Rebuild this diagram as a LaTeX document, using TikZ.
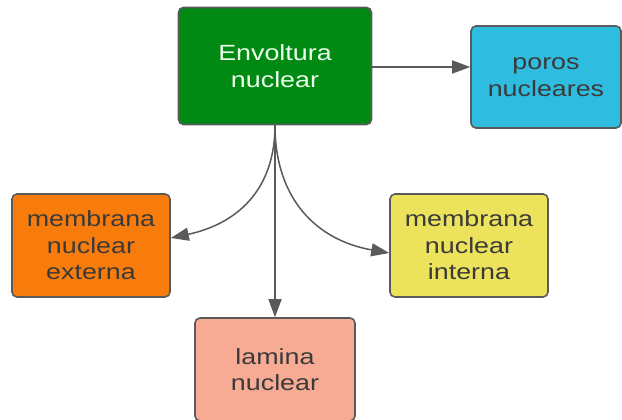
\documentclass[tikz,border=0pt]{standalone}
\usepackage{fontspec}
\setmainfont[FakeStretch=1.22]{Liberation Sans}
\usetikzlibrary{arrows.meta}
\definecolor{boxline}{HTML}{5A5A5A}
\definecolor{envgreen}{HTML}{008A14}
\definecolor{porocyan}{HTML}{2EBDE0}
\definecolor{extorange}{HTML}{F87C0C}
\definecolor{intyellow}{HTML}{ECE25C}
\definecolor{lamsalmon}{HTML}{F8AB94}
\definecolor{textgray}{HTML}{3A3A3A}
\begin{document}
\begin{tikzpicture}[x=1pt,y=1pt,
  conceptbox/.style={draw=boxline, line width=1.6pt, rounded corners=5pt,
    align=center, text=textgray, inner sep=0pt,
    font=\fontsize{22}{26.5}\selectfont},
  link/.style={draw=boxline, line width=1.5pt,
    -{Triangle[length=18pt,width=13pt]}}]
\useasboundingbox (0,0) rectangle (622,420);
\node[conceptbox, fill=envgreen, text=green!8, minimum width=193pt, minimum height=117pt]
  (env) at (275,354) {Envoltura\\nuclear};
\node[conceptbox, fill=porocyan, minimum width=150pt, minimum height=102pt]
  (poros) at (546,343) {poros\\nucleares};
\node[conceptbox, fill=extorange, minimum width=158pt, minimum height=103pt]
  (ext) at (91,174.5) {membrana\\nuclear\\externa};
\node[conceptbox, fill=intyellow, minimum width=158pt, minimum height=103pt]
  (int) at (469,174.5) {membrana\\nuclear\\interna};
\node[conceptbox, fill=lamsalmon, minimum width=160pt, minimum height=103pt]
  (lam) at (275,50.5) {lamina\\nuclear};
\draw[link] ([yshift=-1pt]env.east) -- ([yshift=-1pt]env.east -| poros.west);
\draw[link] (env.south) -- (lam.north);
\draw[link] (env.south) to[out=-90,in=12,looseness=1.1] ([yshift=7.5pt]ext.east);
\draw[link] (env.south) to[out=-90,in=170,looseness=1.1] ([yshift=-7.5pt]int.west);
\end{tikzpicture}
\end{document}
